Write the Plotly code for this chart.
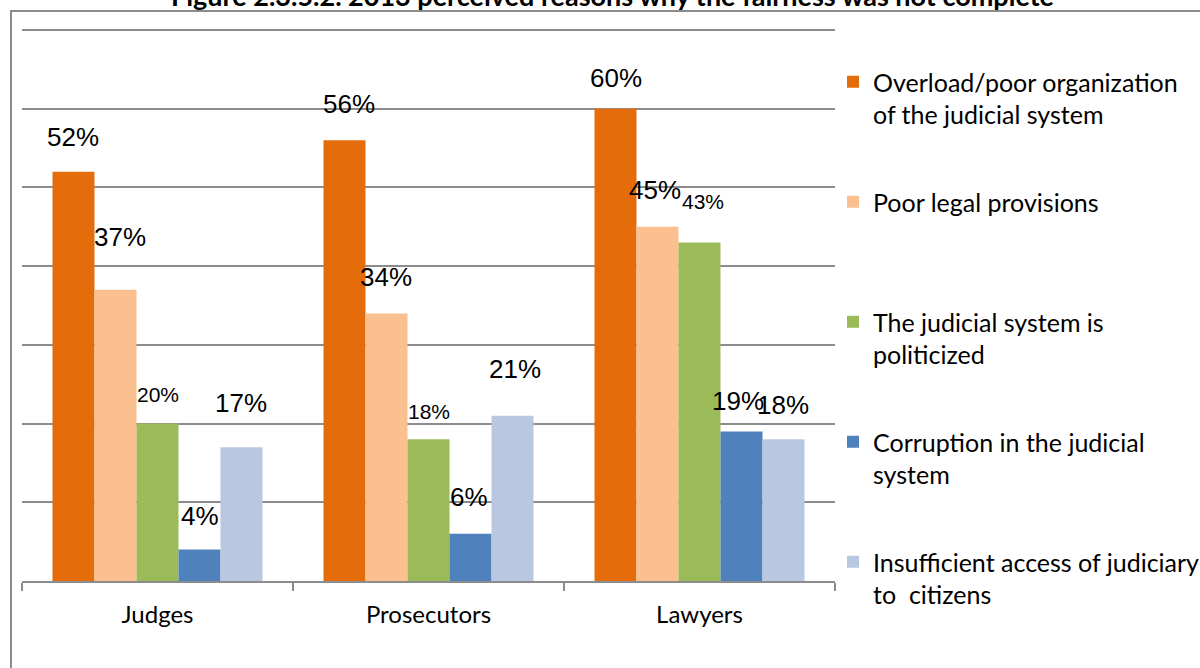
import plotly.graph_objects as go

# Survey groups and the share of respondents citing each reason (%)
groups = ["Judges", "Prosecutors", "Lawyers"]
reasons = [
    "Overload/poor organization<br>of the judicial system",
    "Poor legal provisions<br> ",
    "The judicial system is<br>politicized",
    "Corruption in the judicial<br>system",
    "Insufficient access of judiciary<br>to  citizens",
]
overload = [52, 56, 60]
legal = [37, 34, 45]
politicized = [20, 18, 43]
corruption = [4, 6, 19]
access = [17, 21, 18]
series = [overload, legal, politicized, corruption, access]

colors = ["#E46C0A", "#FAC090", "#9BBB59", "#4F81BD", "#B9C7E1"]

title_text = "Figure 2.3.5.2. 2013 perceived reasons why the fairness was not complete"

# Geometry of the plotting area in pixels
W, H = 1200, 668
L, R, T, B = 22, 835, 29, 581
pw, ph = R - L, B - T
bar_px = 42  # width of one bar in the group

# label placement: (dx, dy) pixel offsets of each data label from its bar top,
# and its font size
label_dx = [[-1, 4, 0], [4, -1, -3], [0, 0, 3], [0, -2, -4], [-1, 2, -1]]
label_dy = [[35, 36, 31], [53, 36, 37], [29, 28, 41], [34, 37, 30], [44, 47, 34]]
label_size = [[26, 26, 26], [26, 26, 26], [21, 21, 21], [26, 26, 26], [26, 26, 26]]

fig = go.Figure()
for i, (name, vals) in enumerate(zip(reasons, series)):
    fig.add_trace(go.Bar(
        x=groups, y=vals, name=name,
        marker=dict(color=colors[i], line=dict(width=0)),
        legendgroup=f"g{i}",
        hoverinfo="x+y",
    ))

annotations = []
for i, vals in enumerate(series):
    for j, v in enumerate(vals):
        annotations.append(dict(
            x=groups[j], y=v, xref="x", yref="y",
            text=f"{v}%", showarrow=False,
            xshift=(i - 2) * bar_px + label_dx[i][j],
            yshift=label_dy[i][j],
            yanchor="middle", xanchor="center",
            font=dict(family="Liberation Sans, Arial, sans-serif",
                      size=label_size[i][j], color="#000000"),
        ))

# Figure title, sitting at the very top edge of the page
annotations.append(dict(
    x=(612 - L) / pw, y=(B - 14) / ph, xref="paper", yref="paper",
    text=f"<b>{title_text}</b>", showarrow=False,
    xanchor="center", yanchor="bottom",
    font=dict(family="Lato, sans-serif", size=27, color="#000000"),
))

fig.update_layout(
    width=W, height=H,
    margin=dict(l=L, r=W - R, t=T, b=H - B, pad=0, autoexpand=False),
    paper_bgcolor="#FFFFFF", plot_bgcolor="#FFFFFF",
    barmode="group", bargap=0.225, bargroupgap=0,
    annotations=annotations,
    showlegend=True,
    legend=dict(
        xref="container", yref="container",
        x=833 / W, y=1 - 59 / H, xanchor="left", yanchor="top",
        font=dict(family="Lato, sans-serif", size=25, color="#000000"),
        valign="top", tracegroupgap=52, itemwidth=30,
        bgcolor="rgba(0,0,0,0)", maxheight=640,
    ),
    shapes=[dict(
        type="rect", xref="paper", yref="paper",
        x0=(11 - L) / pw, x1=1.8, y0=(B - 11) / ph, y1=-0.3,
        line=dict(color="#8C8C8C", width=2), layer="below",
    )],
    xaxis=dict(
        type="category", showgrid=False, showline=True,
        linecolor="#8C8C8C", linewidth=2,
        ticks="outside", tickson="boundaries", ticklen=8,
        tickcolor="#8C8C8C", tickwidth=2,
        tickfont=dict(family="Lato, sans-serif", size=24, color="#000000"),
        ticklabelstandoff=11,
    ),
    yaxis=dict(
        range=[0, 70.13], tickvals=[10, 20, 30, 40, 50, 60, 70],
        showticklabels=False,
        showgrid=True, gridcolor="#8C8C8C", gridwidth=2,
        zeroline=False, showline=False, ticks="",
    ),
)

fig.write_html("out.html")
